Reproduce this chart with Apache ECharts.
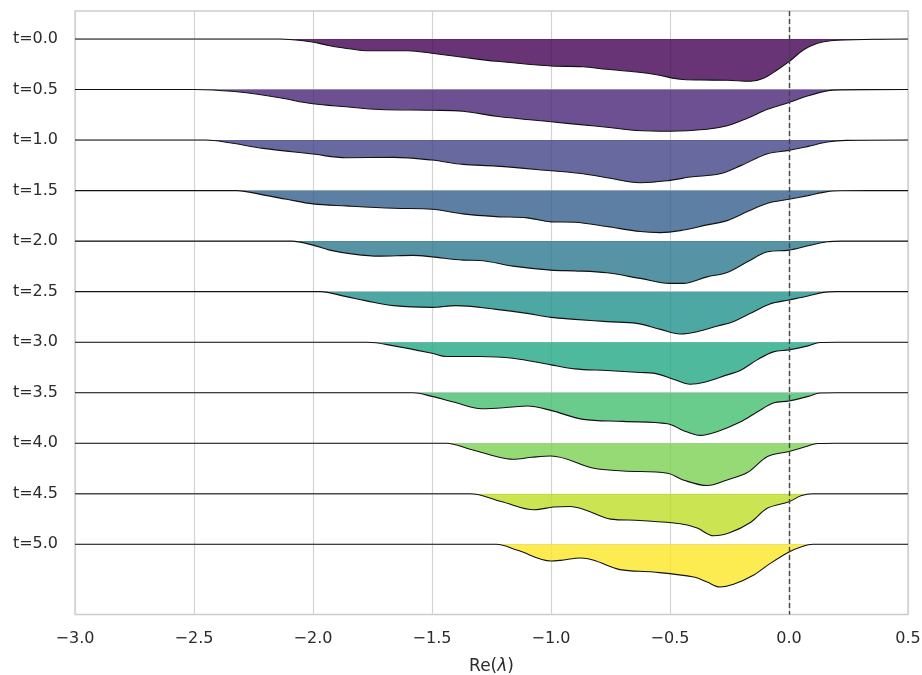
<!DOCTYPE html>
<html>
<head>
<meta charset="utf-8">
<script src="https://cdn.jsdelivr.net/npm/echarts@6/dist/echarts.min.js"></script>
<style>html,body{margin:0;padding:0;background:#fff;}#c{width:922px;height:675px;}</style>
</head>
<body>
<div id="c"></div>
<script>
// time labels of the ridges (top to bottom)
var tLabels = ['0.0','0.5','1.0','1.5','2.0','2.5','3.0','3.5','4.0','4.5','5.0'];
// x tick values
var xTicks = [-3.0,-2.5,-2.0,-1.5,-1.0,-0.5,0.0,0.5];
// ridge colours (viridis)
var rowColors = ['#440154','#482475','#414487','#355f8d','#2a788e','#21918c','#22a884','#44bf70','#7ad151','#bddf26','#fde725'];

// density curves: x positions and heights (in units of ridge spacing)
var x0 = [-3.0,-2.14,-2.01,-1.93,-1.83,-1.77,-1.60,-1.50,-1.37,-1.23,-1.0,-0.865,-0.765,-0.64,-0.55,-0.457,-0.372,-0.26,-0.162,-0.107,-0.05,0,0.06,0.12,0.175,0.355,0.5];
var d0 = [0,0,0.053,0.133,0.204,0.232,0.232,0.283,0.362,0.441,0.534,0.548,0.600,0.653,0.712,0.798,0.811,0.817,0.837,0.778,0.613,0.449,0.218,0.085,0.034,0.006,0];

var x1 = [-3.0,-2.5,-2.42,-2.28,-2.14,-2.0,-1.86,-1.72,-1.5,-1.37,-1.23,-1.0,-0.865,-0.765,-0.64,-0.5,-0.344,-0.26,-0.175,-0.09,0,0.08,0.16,0.22,0.5];
var d1 = [0,0,0.010,0.065,0.164,0.283,0.342,0.396,0.410,0.429,0.528,0.639,0.699,0.746,0.811,0.825,0.786,0.718,0.568,0.390,0.257,0.125,0.026,0.006,0];

var x2 = [-3.0,-2.45,-2.35,-2.21,-2.0,-1.86,-1.66,-1.5,-1.37,-1.23,-1.0,-0.865,-0.765,-0.625,-0.5,-0.415,-0.29,-0.2,-0.09,0,0.08,0.16,0.24,0.5];
var d2 = [0,0,0.053,0.164,0.277,0.350,0.342,0.396,0.481,0.515,0.608,0.667,0.746,0.845,0.798,0.732,0.667,0.501,0.271,0.204,0.125,0.040,0.006,0];

var x3 = [-3.0,-2.32,-2.21,-2.11,-2.0,-1.86,-1.66,-1.5,-1.37,-1.23,-1.1,-1.0,-0.9,-0.765,-0.625,-0.54,-0.457,-0.344,-0.26,-0.175,-0.09,0,0.08,0.16,0.22,0.5];
var d3 = [0,0,0.085,0.172,0.263,0.303,0.350,0.370,0.461,0.515,0.540,0.619,0.627,0.712,0.811,0.831,0.792,0.679,0.594,0.416,0.251,0.172,0.099,0.020,0.004,0];

var x4 = [-3.0,-2.09,-2.0,-1.93,-1.83,-1.72,-1.58,-1.5,-1.37,-1.3,-1.16,-1.0,-0.9,-0.765,-0.625,-0.5,-0.445,-0.344,-0.26,-0.175,-0.09,0,0.08,0.16,0.22,0.5];
var d4 = [0,0,0.079,0.178,0.257,0.297,0.283,0.311,0.376,0.382,0.495,0.574,0.588,0.627,0.738,0.837,0.837,0.707,0.619,0.410,0.212,0.178,0.093,0.014,0,0];

var x5 = [-3.0,-1.97,-1.86,-1.78,-1.66,-1.5,-1.4,-1.23,-1.1,-1.0,-0.9,-0.765,-0.64,-0.54,-0.457,-0.386,-0.3,-0.235,-0.162,-0.08,0,0.08,0.145,0.2,0.5];
var d5 = [0,0,0.099,0.178,0.277,0.311,0.277,0.350,0.429,0.509,0.548,0.594,0.627,0.746,0.837,0.792,0.679,0.594,0.429,0.243,0.164,0.085,0.014,0,0];

var x6 = [-3.0,-1.77,-1.66,-1.5,-1.44,-1.3,-1.16,-1.0,-0.9,-0.765,-0.625,-0.57,-0.486,-0.415,-0.36,-0.26,-0.205,-0.134,-0.066,0,0.08,0.13,0.2,0.5];
var d6 = [0,0,0.073,0.218,0.283,0.283,0.317,0.449,0.528,0.560,0.600,0.613,0.732,0.831,0.798,0.647,0.560,0.350,0.192,0.152,0.073,0.006,0,0];

var x7 = [-3.0,-1.58,-1.5,-1.41,-1.29,-1.16,-1.1,-1.0,-0.865,-0.697,-0.51,-0.445,-0.372,-0.3,-0.205,-0.134,-0.066,0,0.08,0.13,0.2,0.5];
var d7 = [0,0,0.073,0.184,0.317,0.283,0.263,0.350,0.528,0.568,0.613,0.746,0.845,0.766,0.580,0.382,0.204,0.164,0.073,0.006,0,0];

var x8 = [-3.0,-1.44,-1.34,-1.23,-1.16,-1.08,-1.0,-0.82,-0.697,-0.51,-0.445,-0.344,-0.26,-0.175,-0.09,0,0.08,0.12,0.2,0.5];
var d8 = [0,0,0.119,0.263,0.317,0.277,0.251,0.495,0.548,0.594,0.726,0.837,0.726,0.580,0.263,0.164,0.053,0.006,0,0];

var x9 = [-3.0,-1.34,-1.21,-1.07,-0.99,-0.92,-0.85,-0.75,-0.625,-0.457,-0.386,-0.317,-0.247,-0.162,-0.09,0,0.05,0.1,0.5];
var d9 = [0,0,0.152,0.317,0.263,0.251,0.330,0.501,0.528,0.594,0.679,0.831,0.766,0.568,0.283,0.158,0.040,0,0];

var x10 = [-3.0,-1.23,-1.14,-1.0,-0.96,-0.875,-0.82,-0.71,-0.57,-0.4,-0.344,-0.29,-0.233,-0.15,-0.08,0,0.05,0.1,0.5];
var d10 = [0,0,0.119,0.330,0.317,0.271,0.317,0.501,0.548,0.647,0.746,0.845,0.792,0.613,0.382,0.152,0.053,0,0];

var rowsX = [x0,x1,x2,x3,x4,x5,x6,x7,x8,x9,x10];
var rowsD = [d0,d1,d2,d3,d4,d5,d6,d7,d8,d9,d10];

var chart = echarts.init(document.getElementById('c'), null, {renderer: 'canvas'});
var textColor = '#2b2b2b';
var font = 'DejaVu Sans';

var series = [];
rowsX.forEach(function (xs, i) {
  var ds = rowsD[i];
  series.push({
    name: 't=' + tLabels[i],
    type: 'line',
    data: xs.map(function (x, k) { return [x, i + ds[k]]; }),
    smooth: 0.35,
    symbol: 'none',
    silent: true,
    lineStyle: { color: '#111111', width: 1.1 },
    areaStyle: { color: rowColors[i], opacity: 0.8, origin: i },
    z: 2
  });
});
series.push({
  type: 'line',
  data: [],
  silent: true,
  z: 5,
  markLine: {
    silent: true,
    symbol: ['none', 'none'],
    label: { show: false },
    lineStyle: { color: '#444444', type: [5, 3], width: 1.4 },
    data: [{ xAxis: 0 }]
  }
});

var yVals = tLabels.map(function (t, i) { return i; });

chart.setOption({
  animation: false,
  backgroundColor: '#ffffff',
  grid: {
    left: 75, right: 14, top: 11, bottom: 60.5,
    outerBoundsMode: 'none',
    containLabel: false,
    show: true, borderColor: '#cccccc', borderWidth: 1.3, backgroundColor: '#ffffff'
  },
  xAxis: {
    type: 'value',
    min: xTicks[0], max: xTicks[xTicks.length - 1], interval: 0.5,
    axisLine: { show: false },
    axisTick: { show: false },
    splitLine: { show: true, lineStyle: { color: '#d3d3d3', width: 1.2 } },
    axisLabel: {
      color: textColor, fontFamily: font, fontSize: 16, margin: 16,
      formatter: function (v) { return (v < 0 ? '\u2212' : '') + Math.abs(v).toFixed(1); }
    },
    name: '{a|Re(}{b|\u03bb}{a|)}',
    nameLocation: 'middle',
    nameGap: 44,
    nameTextStyle: {
      fontFamily: font, fontSize: 17, color: textColor,
      rich: {
        a: { fontFamily: font, fontSize: 17, color: textColor },
        b: { fontFamily: font, fontSize: 17, color: textColor, fontStyle: 'italic' }
      }
    }
  },
  yAxis: {
    type: 'value',
    inverse: true,
    min: -0.554, max: 11.389,
    axisLine: { show: false },
    axisTick: { show: false, customValues: yVals },
    splitLine: { show: true, lineStyle: { color: '#d3d3d3', width: 1.2 } },
    axisLabel: {
      customValues: yVals,
      color: textColor, fontFamily: font, fontSize: 16, margin: 17,
      formatter: function (v) { return 't=' + tLabels[Math.round(v)]; }
    }
  },
  series: series
});
</script>
</body>
</html>
